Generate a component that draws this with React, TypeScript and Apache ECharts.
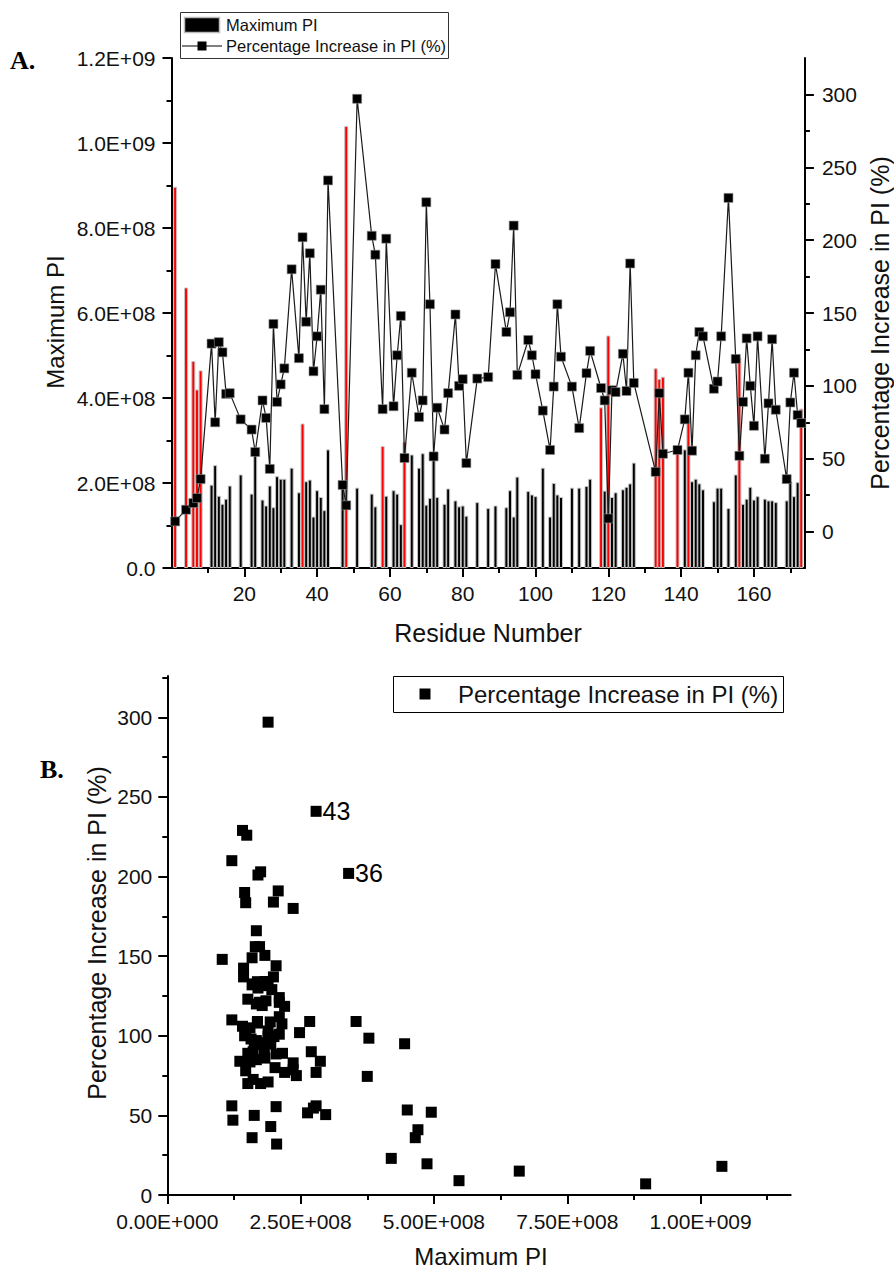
import { useEffect, useRef } from "react";
import * as echarts from "echarts";

// ---- data ----
const residues = [
  1, 4, 6, 7, 8, 11, 12, 13, 14, 15,
  16, 19, 22, 23, 25, 26, 27, 28, 29, 30,
  31, 33, 35, 36, 37, 38, 39, 40, 41, 42,
  43, 47, 48, 51, 55, 56, 58, 59, 61, 62,
  63, 64, 66, 68, 69, 70, 71, 72, 73, 75,
  76, 78, 79, 80, 81, 84, 87, 89, 92, 93,
  94, 95, 98, 99, 100, 102, 104, 105, 106, 107,
  110, 112, 114, 115, 118, 119, 120, 121, 122, 124,
  125, 126, 127, 133, 134, 135, 139, 141, 142, 143,
  144, 145, 146, 149, 150, 151, 153, 155, 156, 157,
  158, 159, 160, 161, 163, 164, 165, 166, 169, 170,
  171, 172, 173,
];

const maxPI = [
  8.97e8, 6.6e8, 4.87e8, 4.2e8, 4.65e8, 1.96e8, 2.42e8, 1.7e8, 1.51e8, 1.63e8,
  1.94e8, 2.2e8, 1.75e8, 2.74e8, 1.61e8, 1.47e8, 1.94e8, 1.43e8, 2.16e8, 2.1e8,
  2.1e8, 2.36e8, 1.78e8, 3.4e8, 2.04e8, 2.08e8, 1.21e8, 1.83e8, 1.67e8, 1.36e8,
  2.79e8, 2.05e8, 1.04e9, 1.89e8, 1.75e8, 1.45e8, 2.87e8, 1.7e8, 1.83e8, 1.75e8,
  1.03e8, 2.97e8, 2.67e8, 2.36e8, 2.7e8, 1.49e8, 1.65e8, 2.63e8, 1.67e8, 1.51e8,
  1.87e8, 1.59e8, 1.45e8, 1.47e8, 1.23e8, 1.55e8, 1.41e8, 1.47e8, 1.43e8, 1.83e8,
  1.21e8, 2.15e8, 1.81e8, 1.73e8, 1.69e8, 2.36e8, 1.21e8, 2.0e8, 1.73e8, 1.67e8,
  1.89e8, 1.89e8, 1.93e8, 2.1e8, 3.78e8, 1.82e8, 5.47e8, 1.67e8, 1.78e8, 1.85e8,
  1.91e8, 1.99e8, 2.48e8, 4.7e8, 4.45e8, 4.5e8, 2.79e8, 2.79e8, 3.54e8, 2.04e8,
  2.1e8, 1.99e8, 1.85e8, 1.57e8, 1.89e8, 1.89e8, 1.41e8, 2.2e8, 4.95e8, 1.51e8,
  1.63e8, 1.91e8, 1.61e8, 1.69e8, 1.63e8, 1.59e8, 1.59e8, 1.55e8, 1.59e8, 2.04e8,
  1.69e8, 2.02e8, 3.75e8,
];

const pctIncrease = [
  7, 15, 19.6, 23, 36, 129, 75, 130, 123, 94.5,
  95, 77, 70, 54.6, 90, 78, 43, 142.5, 89, 101,
  112, 180, 119, 202, 144, 191, 110, 134, 166, 84,
  241, 32, 18, 297, 203, 190, 84, 201, 86, 121,
  148, 50.5, 109, 78.6, 90, 226, 156, 51.6, 85, 70,
  95, 149, 100, 104.6, 47, 105, 106, 183.6, 137, 150.5,
  210, 107.5, 131.5, 121, 108, 83, 56, 99.5, 156, 120,
  99.5, 71, 108.7, 124, 98.5, 90, 9, 97, 95.7, 122,
  96.5, 184, 102, 41, 95, 53.4, 56, 77, 109, 55.5,
  121, 137, 134, 98, 103, 134, 229, 118.5, 52, 89,
  132.6, 100, 72.6, 134, 50, 88, 132, 83.6, 36, 88.6,
  109, 80, 74.5,
];

const redResidues = [1, 4, 6, 7, 8, 36, 48, 58, 64, 118, 120, 133, 134, 135, 139, 142, 156, 173];
const labelledResidues = [43, 36];

const residueTicks = [20, 40, 60, 80, 100, 120, 140, 160];
const residueMinorTicks = [10, 30, 50, 70, 90, 110, 130, 150, 170];
const piTicksA = [0, 2e8, 4e8, 6e8, 8e8, 1e9, 1.2e9];
const piMinorTicksA = [1e8, 3e8, 5e8, 7e8, 9e8, 1.1e9];
const pctTicks = [0, 50, 100, 150, 200, 250, 300];
const pctMinorTicksA = [25, 75, 125, 175, 225, 275];
const pctMinorTicksB = [25, 75, 125, 175, 225, 275, 325];
const piTicksB = [0, 2.5e8, 5e8, 7.5e8, 1e9];
const piMinorTicksB = [1.25e8, 3.75e8, 6.25e8, 8.75e8, 1.125e9];

const FONT = '"Liberation Sans", Arial, sans-serif';

function fmtA(v: number): string {
  if (v === 0) return "0.0";
  const e = Math.floor(Math.log10(v) + 1e-9);
  const m = v / Math.pow(10, e);
  return m.toFixed(1) + "E+" + String(e).padStart(2, "0");
}
function fmtB(v: number): string {
  if (v === 0) return "0.00E+000";
  const e = Math.floor(Math.log10(v) + 1e-9);
  const m = v / Math.pow(10, e);
  return m.toFixed(2) + "E+" + String(e).padStart(3, "0");
}

const axisLineStyle = { show: true, lineStyle: { color: "#000", width: 2 } };
const labelStyle = { color: "#111", fontSize: 21, fontFamily: FONT };

function mainAxis(extra: any, ticks: number[], tickLen: number, labelMargin: number, formatter?: (v: number) => string) {
  return {
    type: "value",
    axisLine: axisLineStyle,
    splitLine: { show: false },
    axisTick: { show: true, inside: false, length: tickLen, customValues: ticks, lineStyle: { color: "#000", width: 2 } },
    axisLabel: {
      show: true,
      customValues: ticks,
      margin: labelMargin,
      ...labelStyle,
      formatter: formatter ? (v: number) => formatter(v) : (v: number) => String(v),
    },
    ...extra,
  };
}
function minorAxis(extra: any, ticks: number[]) {
  return {
    type: "value",
    axisLine: { show: false },
    splitLine: { show: false },
    axisLabel: { show: false },
    axisTick: { show: true, inside: false, length: 5, customValues: ticks, lineStyle: { color: "#000", width: 2 } },
    ...extra,
  };
}

export default function App() {
  const ref = useRef<HTMLDivElement>(null);
  useEffect(() => {
    document.body.style.margin = "0";
    if (!ref.current) return;
    const chart = echarts.init(ref.current, undefined, { renderer: "svg" });

    const barData = residues.map((r, i) => ({
      value: [r, maxPI[i]],
      itemStyle: { color: redResidues.includes(r) ? "#ff0000" : "#000000" },
    }));
    const lineData = residues.map((r, i) => [r, pctIncrease[i]]);
    const scatterData = residues.map((r, i) => {
      const item: any = { value: [maxPI[i], pctIncrease[i]] };
      if (labelledResidues.includes(r)) {
        item.label = {
          show: true,
          formatter: String(r),
          position: "right",
          distance: 1,
          fontSize: 25,
          color: "#000",
          fontFamily: FONT,
        };
      }
      return item;
    });

    const option: any = {
      animation: false,
      textStyle: { fontFamily: FONT },
      grid: [
        { left: 171.5, top: 58, width: 633.4, height: 510 },
        { left: 167.3, top: 676, width: 623.4, height: 519 },
      ],
      xAxis: [
        mainAxis({ gridIndex: 0, min: 0, max: 174, position: "bottom" }, residueTicks, 9, 15),
        minorAxis({ gridIndex: 0, min: 0, max: 174, position: "bottom" }, residueMinorTicks),
        mainAxis({ gridIndex: 1, min: 0, max: 1.169e9, position: "bottom" }, piTicksB, 9, 16, fmtB),
        minorAxis({ gridIndex: 1, min: 0, max: 1.169e9, position: "bottom" }, piMinorTicksB),
      ],
      yAxis: [
        mainAxis({ gridIndex: 0, min: 0, max: 1.2e9, position: "left" }, piTicksA, 9, 16, fmtA),
        minorAxis({ gridIndex: 0, min: 0, max: 1.2e9, position: "left" }, piMinorTicksA),
        mainAxis({ gridIndex: 0, min: -25, max: 325, position: "right" }, pctTicks, 9, 17),
        minorAxis({ gridIndex: 0, min: -25, max: 325, position: "right" }, pctMinorTicksA),
        mainAxis({ gridIndex: 1, min: 0, max: 326, position: "left" }, pctTicks, 9, 15),
        minorAxis({ gridIndex: 1, min: 0, max: 326, position: "left" }, pctMinorTicksB),
      ],
      series: [
        {
          type: "bar",
          name: "Maximum PI",
          xAxisIndex: 0,
          yAxisIndex: 0,
          barWidth: 4,
          data: barData,
          itemStyle: { borderColor: "#c4c4c4", borderWidth: 1, opacity: 1 },
          z: 2,
        },
        {
          type: "line",
          name: "Percentage Increase in PI (%)",
          xAxisIndex: 0,
          yAxisIndex: 2,
          data: lineData,
          symbol: "rect",
          symbolSize: 9,
          showAllSymbol: true,
          lineStyle: { color: "#1a1a1a", width: 1.2 },
          itemStyle: { color: "#000", borderColor: "#888", borderWidth: 0.6, opacity: 1 },
          z: 5,
        },
        {
          type: "scatter",
          name: "Percentage Increase in PI (%)",
          xAxisIndex: 2,
          yAxisIndex: 4,
          data: scatterData,
          symbol: "rect",
          symbolSize: 11,
          itemStyle: { color: "#000", opacity: 1 },
          z: 5,
        },
      ],
      graphic: [
        // panel letters
        { type: "text", x: 10, y: 60, style: { text: "A.", font: 'bold 26px "Liberation Serif", serif', fill: "#000", align: "left", verticalAlign: "middle" } },
        { type: "text", x: 40, y: 769, style: { text: "B.", font: 'bold 26px "Liberation Serif", serif', fill: "#000", align: "left", verticalAlign: "middle" } },
        // axis titles A
        { type: "text", x: 55, y: 322, rotation: Math.PI / 2, style: { text: "Maximum PI", font: `24px ${FONT}`, fill: "#111", align: "center", verticalAlign: "middle" } },
        { type: "text", x: 880, y: 323, rotation: Math.PI / 2, style: { text: "Percentage Increase in PI (%)", font: `25px ${FONT}`, fill: "#111", align: "center", verticalAlign: "middle" } },
        { type: "text", x: 488, y: 633, style: { text: "Residue Number", font: `25px ${FONT}`, fill: "#111", align: "center", verticalAlign: "middle" } },
        // axis titles B
        { type: "text", x: 97, y: 933, rotation: Math.PI / 2, style: { text: "Percentage Increase in PI (%)", font: `25px ${FONT}`, fill: "#111", align: "center", verticalAlign: "middle" } },
        { type: "text", x: 481, y: 1256, style: { text: "Maximum PI", font: `24px ${FONT}`, fill: "#111", align: "center", verticalAlign: "middle" } },
        // legend A
        { type: "rect", shape: { x: 180.5, y: 12.5, width: 268, height: 46 }, style: { fill: "#fff", stroke: "#333", lineWidth: 1 }, z: 10 },
        { type: "rect", shape: { x: 184.5, y: 17.5, width: 35, height: 15 }, style: { fill: "#000", stroke: "#bbb", lineWidth: 1.5 }, z: 11 },
        { type: "text", x: 226, y: 25, z: 11, style: { text: "Maximum PI", font: `16.5px ${FONT}`, fill: "#111", align: "left", verticalAlign: "middle" } },
        { type: "line", shape: { x1: 182, y1: 46, x2: 222, y2: 46 }, style: { stroke: "#000", lineWidth: 1.2 }, z: 11 },
        { type: "rect", shape: { x: 197.5, y: 41.5, width: 9, height: 9 }, style: { fill: "#000" }, z: 12 },
        { type: "text", x: 226, y: 46, z: 11, style: { text: "Percentage Increase in PI (%)", font: `16.5px ${FONT}`, fill: "#111", align: "left", verticalAlign: "middle" } },
        // legend B
        { type: "rect", shape: { x: 393.5, y: 676.5, width: 390, height: 36 }, style: { fill: "#fff", stroke: "#000", lineWidth: 1 }, z: 10 },
        { type: "rect", shape: { x: 419.5, y: 688.5, width: 11, height: 11 }, style: { fill: "#000" }, z: 11 },
        { type: "text", x: 458, y: 694, z: 11, style: { text: "Percentage Increase in PI (%)", font: `24px ${FONT}`, fill: "#111", align: "left", verticalAlign: "middle" } },
      ],
    };

    chart.setOption(option);
    return () => chart.dispose();
  }, []);

  return <div ref={ref} style={{ width: 894, height: 1272 }} />;
}
